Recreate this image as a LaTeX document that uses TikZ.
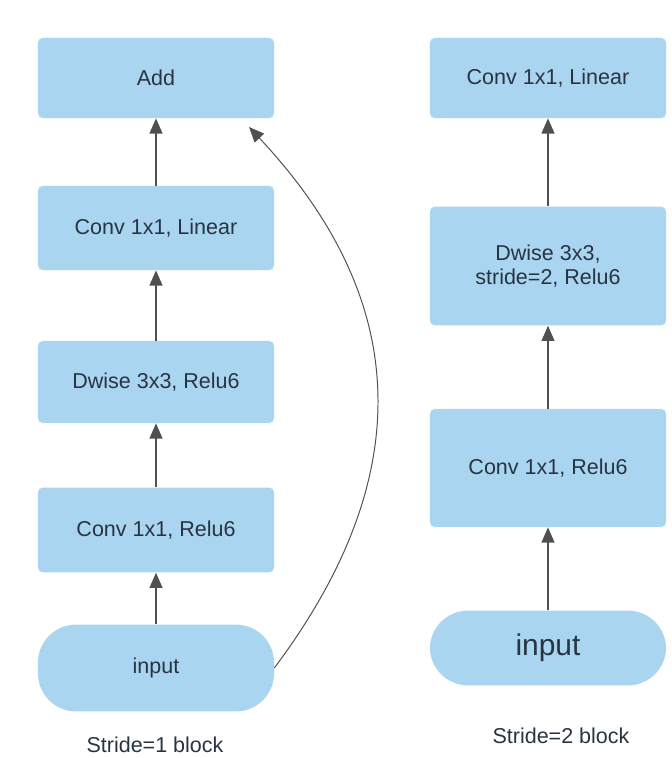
\documentclass[tikz,border=0pt]{standalone}
\usepackage{fontspec}
\setmainfont{Liberation Sans}
\usepackage{tikz}
\usetikzlibrary{arrows.meta}
\definecolor{cbox}{RGB}{170,213,240}
\definecolor{ctext}{RGB}{40,52,66}
\definecolor{carrow}{RGB}{80,80,80}

\begin{document}
\begin{tikzpicture}[x=0.025cm, y=-0.025cm,
    blk/.style={fill=cbox, rounded corners=0.12cm, inner sep=0pt, minimum width=5.9cm,
                align=center, text=ctext, font=\fontsize{15.3}{17}\selectfont},
    pill/.style={blk, rounded corners=0.95cm},
    arr/.style={draw=carrow, line width=1.1pt, -{Triangle[length=0.38cm, width=0.32cm]}},
    caption/.style={text=ctext, font=\fontsize{15.3}{17}\selectfont}]
        \useasboundingbox (0,0) rectangle (672,758);
        % stride 1
        \node[blk, minimum height=2cm]    (add1) at (156,78)  {Add};
        \node[blk, minimum height=2.1cm]  (lin1) at (156,228) {Conv 1x1, Linear};
        \node[blk, minimum height=2.05cm] (dw1)  at (156,382) {Dwise 3x3, Relu6};
        \node[blk, minimum height=2.12cm] (exp1) at (156,530) {Conv 1x1, Relu6};
        \node[pill, minimum height=2.17cm] (in1) at (156,668) {input};
        \node[caption] (lab1) at (155,745) {Stride=1 block};
        \coordinate (skip) at (249,127);
        \foreach \a/\b in {in1/exp1, exp1/dw1, dw1/lin1, lin1/add1}{
          \draw[arr] (\a) -- (\b);}
        \draw[arr, line width=0.7pt] (in1.east) .. controls (400,500) and (430,320) .. (skip);
        % stride 2
        \node[blk, minimum height=2cm]    (lin2) at (548,78)  {Conv 1x1, Linear};
        \node[blk, minimum height=2.97cm] (dw2)  at (548,266) {Dwise 3x3,\\ stride=2, Relu6};
        \node[blk, minimum height=2.95cm] (exp2) at (548,468) {Conv 1x1, Relu6};
        \node[pill, minimum height=1.87cm, font=\fontsize{21.3}{24}\selectfont] (in2) at (548,648) {input};
        \node[caption] (lab2) at (561,736) {Stride=2 block};
        \foreach \a/\b in {in2/exp2, exp2/dw2, dw2/lin2}{
          \draw[arr] (\a) -- (\b);}
\end{tikzpicture}
\end{document}
